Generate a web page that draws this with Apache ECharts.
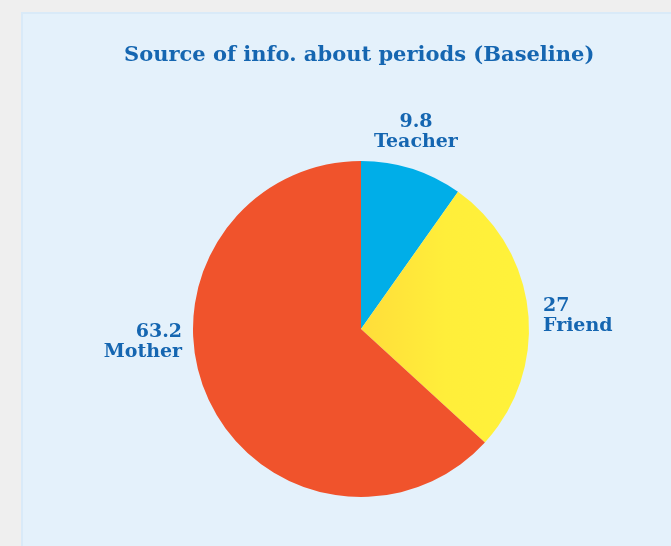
<!DOCTYPE html>
<html>
<head>
<meta charset="utf-8">
<style>
    html, body {
        margin: 0;
        padding: 0;
        width: 671px;
        height: 546px;
        overflow: hidden;
        background: #efefef;
    }
    #panel {
        position: absolute;
        left: 21px;
        top: 12px;
        width: 648px;
        height: 532px;
        background: #e4f1fb;
        border-top: 2px solid #d9eaf8;
        border-left: 2px solid #d9eaf8;
    }
    #pieChart {
        width: 100%;
        height: 100%;
    }
</style>
<script src="https://cdn.jsdelivr.net/npm/echarts@6/dist/echarts.min.js"></script>
</head>
<body>
<div id="panel"><div id="pieChart"></div></div>
<script>
    // 数据
    var categories = ['Teacher', 'Friend', 'Mother'];
    var values = [9.8, 27, 63.2];
    var colors = [
        '#00aee8',
        new echarts.graphic.LinearGradient(0, 0, 1, 0, [
            {offset: 0, color: '#ffdd3a'},
            {offset: 0.5, color: '#ffee3a'},
            {offset: 1, color: '#fff23a'}
        ]),
        '#f0532c'
    ];

    var labelColor = '#1566b1';
    var serif = '"DejaVu Serif", "Liberation Serif", serif';

    var data = [];
    for (var i = 0; i < categories.length; i++) {
        data.push({
            name: categories[i],
            value: values[i],
            itemStyle: {color: colors[i]}
        });
    }

    // 标签微调（相对默认外侧位置）
    function placeLabel(params) {
        if (params.dataIndex === 0) {
            return {align: 'center', dx: -4, dy: -27};
        }
        if (params.dataIndex === 1) {
            return {dx: 0, dy: 6};
        }
        return {dx: -11, dy: -59};
    }

    var option = {
        backgroundColor: 'transparent',
        animation: false,
        title: {
            text: 'Source of info. about periods (Baseline)',
            left: 96,
            top: 26,
            textStyle: {
                fontFamily: serif,
                fontSize: 21,
                fontWeight: 'bold',
                color: labelColor
            }
        },
        series: [{
            type: 'pie',
            center: [338, 315],
            radius: 168,
            startAngle: 90,
            clockwise: true,
            data: data,
            label: {
                show: true,
                position: 'outside',
                formatter: '{c}\n{b}',
                fontFamily: serif,
                fontSize: 19,
                fontWeight: 'bold',
                lineHeight: 20,
                color: labelColor
            },
            labelLine: {
                show: false,
                length: 10,
                length2: 0
            },
            labelLayout: placeLabel,
            emphasis: {disabled: true}
        }]
    };

    var chart = echarts.init(document.getElementById('pieChart'));
    chart.setOption(option);
</script>
</body>
</html>
